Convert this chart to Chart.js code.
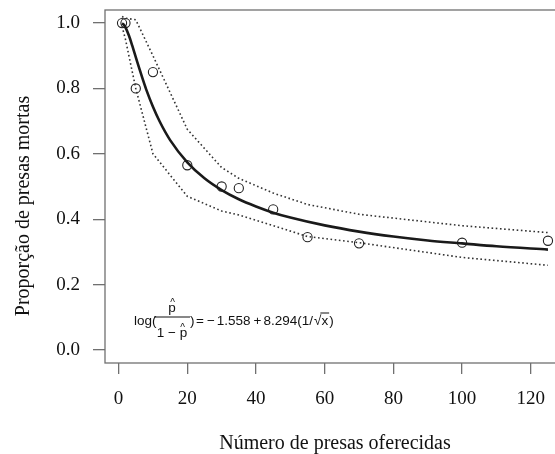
<!DOCTYPE html>
<html>
<head>
<meta charset="utf-8">
<script src="https://cdn.jsdelivr.net/npm/chart.js@4.4.1/dist/chart.umd.min.js"></script>
<style>
  html, body { margin: 0; padding: 0; background: #fff; }
  #wrap { width: 555px; height: 454px; overflow: hidden; }
</style>
</head>
<body>
<div id="wrap"><canvas id="c" width="580" height="454"></canvas></div>
<script>
// observed proportions
const OBS_X = [1, 2, 5, 10, 20, 30, 35, 45, 55, 70, 100, 125];
const OBS_Y = [1.0, 1.0, 0.80, 0.85, 0.565, 0.50, 0.495, 0.43, 0.345, 0.326, 0.328, 0.334];

// fitted curve
const FIT_X = [1, 1.5, 2, 3, 4, 5, 6, 7, 8, 10, 12, 15, 20, 25, 30, 35, 40, 45, 50, 60, 70, 80, 90, 100, 110, 125];
const FIT_Y = [0.999, 0.995, 0.987, 0.962, 0.930, 0.896, 0.862, 0.829, 0.798, 0.744, 0.698, 0.642, 0.574, 0.525, 0.489,
               0.461, 0.439, 0.420, 0.405, 0.381, 0.362, 0.347, 0.335, 0.326, 0.317, 0.307];

// confidence band (dotted)
const BAND_X = [1, 2, 5, 10, 20, 30, 35, 45, 55, 70, 100, 125];
const UPPER = [1.02, 1.015, 1.01, 0.90, 0.675, 0.558, 0.525, 0.48, 0.445, 0.415, 0.38, 0.359];
const LOWER = [0.99, 0.95, 0.80, 0.60, 0.47, 0.425, 0.413, 0.38, 0.347, 0.328, 0.283, 0.259];

const X_TICKS = [0, 20, 40, 60, 80, 100, 120];
const Y_TICKS = [0.0, 0.2, 0.4, 0.6, 0.8, 1.0];

const X_TITLE = 'Número de presas oferecidas';
const Y_TITLE = 'Proporção de presas mortas';

const pts = (xs, ys) => xs.map((x, i) => ({ x, y: ys[i] }));
const SERIF = '"Liberation Serif", "Times New Roman", serif';
const SANS = '"Liberation Sans", Arial, sans-serif';
const BOX = '#707070';

// box around plot, axis titles and the formula
const decor = {
    id: 'decor',
    afterDraw(chart) {
        const { ctx, chartArea: a } = chart;
        ctx.save();
        ctx.strokeStyle = BOX;
        ctx.lineWidth = 1.3;
        ctx.strokeRect(a.left, a.top, a.right - a.left, a.bottom - a.top);

        ctx.fillStyle = '#111';
        ctx.font = '20px ' + SERIF;
        ctx.textAlign = 'center';
        ctx.textBaseline = 'alphabetic';
        ctx.fillText(X_TITLE, 335, 449);

        ctx.save();
        ctx.translate(29, 206);
        ctx.rotate(-Math.PI / 2);
        ctx.fillText(Y_TITLE, 0, 0);
        ctx.restore();

        // log(p^/(1-p^)) = -1.558 + 8.294(1/sqrt(x))
        ctx.font = '13.5px ' + SANS;
        ctx.textAlign = 'left';
        const base = 324.5;
        ctx.fillText('log(', 134, base);
        ctx.lineWidth = 1;
        ctx.strokeStyle = '#111';
        ctx.beginPath(); ctx.moveTo(154, 317); ctx.lineTo(190, 317); ctx.stroke();
        ctx.textAlign = 'center';
        ctx.fillText('p', 172, 312);
        ctx.fillText('1 \u2212 p', 172, 337);
        ctx.font = '10px ' + SANS;
        ctx.fillText('^', 172.5, 306);
        ctx.fillText('^', 182.5, 331);
        ctx.font = '13.5px ' + SANS;
        ctx.textAlign = 'left';
        ctx.fillText(')', 190, base);
        let x = 196;
        const parts = [['=', 3], ['\u2212', 2], ['1.558', 3], ['+', 2], ['8.294(1/', 1]];
        parts.forEach(([s, g]) => { ctx.fillText(s, x, base); x += ctx.measureText(s).width + g; });
        ctx.fillText('\u221a', x, base);
        x += ctx.measureText('\u221a').width;
        ctx.beginPath(); ctx.moveTo(x - 1, 313); ctx.lineTo(x + ctx.measureText('x').width + 1, 313); ctx.stroke();
        ctx.fillText('x', x, base);
        x += ctx.measureText('x').width + 1;
        ctx.fillText(')', x, base);
        ctx.restore();
    }
};

const noPad = s => { s.paddingTop = 0; s.paddingBottom = 0; s.paddingLeft = 0; s.paddingRight = 0; };

new Chart(document.getElementById('c'), {
    type: 'scatter',
    data: {
        datasets: [
            {
                label: 'upper',
                data: pts(BAND_X, UPPER),
                showLine: true,
                borderColor: '#333',
                borderWidth: 1.6,
                borderDash: [1.6, 2.6],
                pointRadius: 0
            },
            {
                label: 'lower',
                data: pts(BAND_X, LOWER),
                showLine: true,
                borderColor: '#333',
                borderWidth: 1.6,
                borderDash: [1.6, 2.6],
                pointRadius: 0
            },
            {
                label: 'ajuste',
                data: pts(FIT_X, FIT_Y),
                showLine: true,
                borderColor: '#1a1a1a',
                borderWidth: 2.6,
                cubicInterpolationMode: 'monotone',
                pointRadius: 0
            },
            {
                label: 'observado',
                data: pts(OBS_X, OBS_Y),
                pointRadius: 4.6,
                pointBorderWidth: 1.1,
                pointBorderColor: '#222',
                pointBackgroundColor: 'rgba(0,0,0,0)'
            }
        ]
    },
    options: {
        responsive: false,
        animation: false,
        devicePixelRatio: 1,
        layout: { padding: { left: 0, top: 10, right: 15, bottom: 0 } },
        plugins: { legend: { display: false }, tooltip: { enabled: false } },
        scales: {
            x: {
                type: 'linear',
                min: -3.96,
                max: 129.96,
                afterBuildTicks: s => { s.ticks = X_TICKS.map(v => ({ value: v })); },
                afterFit: s => { s.height = 91; noPad(s); },
                border: { display: false },
                grid: { drawOnChartArea: false, drawTicks: true, tickLength: 11, color: BOX, lineWidth: 1.3 },
                ticks: { font: { family: SERIF, size: 19 }, color: '#111', padding: 14, maxRotation: 0 }
            },
            y: {
                min: -0.04,
                max: 1.04,
                afterBuildTicks: s => { s.ticks = Y_TICKS.map(v => ({ value: v })); },
                afterFit: s => { s.width = 105; noPad(s); },
                border: { display: false },
                grid: { drawOnChartArea: false, drawTicks: true, tickLength: 12, color: BOX, lineWidth: 1.3 },
                ticks: { font: { family: SERIF, size: 19 }, color: '#111', padding: 13, callback: v => v.toFixed(1) }
            }
        }
    },
    plugins: [decor]
});
</script>
</body>
</html>
